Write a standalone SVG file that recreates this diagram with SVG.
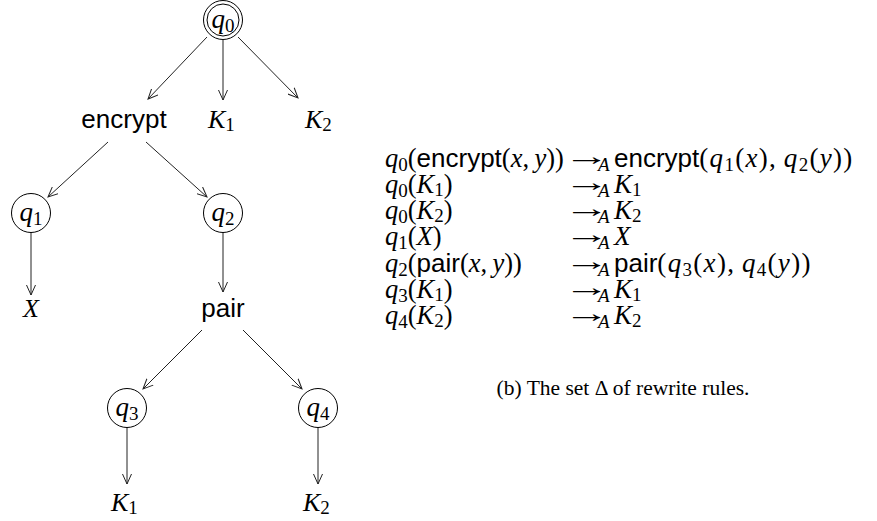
<svg xmlns="http://www.w3.org/2000/svg" width="877" height="521" viewBox="0 0 877 521">
<style>
.t{font-family:"Liberation Serif","Times New Roman",serif;font-size:26px;fill:#000}
.r{font-family:"Liberation Serif","Times New Roman",serif;font-size:27px;fill:#000}
.l{font-family:"Liberation Serif","Times New Roman",serif;font-size:26.5px;fill:#000}
.rr{letter-spacing:1.3px}
.mi{font-style:italic}
.sf{font-family:"Liberation Sans",Arial,sans-serif;font-size:26px;letter-spacing:0}
.sub{font-size:19px;font-style:normal}
.subi{font-size:19px;font-style:italic}
.ar{font-family:"Liberation Serif","Times New Roman",serif;font-size:26px;fill:#000}
.cap{font-family:"Liberation Serif","Times New Roman",serif;font-size:21.5px;fill:#000}
.st{fill:none;stroke:#000;stroke-width:1}
.e{fill:none;stroke:#222;stroke-width:1;marker-end:url(#ah)}
</style>
<defs>
<marker id="ah" markerUnits="userSpaceOnUse" markerWidth="12" markerHeight="10" refX="10" refY="5" orient="auto">
<path d="M0,0.5 L10,5 L0,9.5" fill="none" stroke="#222" stroke-width="1"/>
</marker>
</defs>

<g id="edges">
<line class="e" x1="207" y1="37" x2="148" y2="99"/>
<line class="e" x1="223" y1="40" x2="223" y2="100"/>
<line class="e" x1="238" y1="37" x2="298" y2="98"/>
<line class="e" x1="108" y1="142" x2="48" y2="197"/>
<line class="e" x1="146" y1="142" x2="207" y2="197"/>
<line class="e" x1="31" y1="232" x2="31" y2="295"/>
<line class="e" x1="223" y1="232" x2="223" y2="292"/>
<line class="e" x1="202" y1="330" x2="143" y2="389"/>
<line class="e" x1="243" y1="330" x2="302" y2="389"/>
<line class="e" x1="127" y1="427" x2="127" y2="484"/>
<line class="e" x1="318" y1="427" x2="318" y2="484"/>
</g>

<g id="q0">
<circle class="st" cx="223" cy="20" r="19.5"/>
<circle class="st" cx="223" cy="20" r="16"/>
<text class="r" x="223" y="28" text-anchor="middle"><tspan class="mi">q</tspan><tspan class="sub" dy="4">0</tspan></text>
</g>
<g id="encrypt"><text class="t sf" x="124" y="128" text-anchor="middle">encrypt</text></g>
<g id="K1a"><text class="t" x="208" y="128"><tspan class="mi">K</tspan><tspan class="sub" dy="3">1</tspan></text></g>
<g id="K2a"><text class="t" x="305" y="128"><tspan class="mi">K</tspan><tspan class="sub" dy="3">2</tspan></text></g>
<g id="q1">
<circle class="st" cx="31" cy="213" r="19.5"/>
<text class="r" x="31" y="221" text-anchor="middle"><tspan class="mi">q</tspan><tspan class="sub" dy="4">1</tspan></text>
</g>
<g id="q2">
<circle class="st" cx="223" cy="213" r="19.5"/>
<text class="r" x="223" y="221" text-anchor="middle"><tspan class="mi">q</tspan><tspan class="sub" dy="4">2</tspan></text>
</g>
<g id="X"><text class="t mi" x="31" y="317" text-anchor="middle">X</text></g>
<g id="pair"><text class="t sf" x="223" y="317" text-anchor="middle">pair</text></g>
<g id="q3">
<circle class="st" cx="127" cy="408" r="19.5"/>
<text class="r" x="127" y="416" text-anchor="middle"><tspan class="mi">q</tspan><tspan class="sub" dy="4">3</tspan></text>
</g>
<g id="q4">
<circle class="st" cx="318" cy="408" r="19.5"/>
<text class="r" x="318" y="416" text-anchor="middle"><tspan class="mi">q</tspan><tspan class="sub" dy="4">4</tspan></text>
</g>
<g id="K1b"><text class="t" x="111" y="511"><tspan class="mi">K</tspan><tspan class="sub" dy="3">1</tspan></text></g>
<g id="K2b"><text class="t" x="303" y="511"><tspan class="mi">K</tspan><tspan class="sub" dy="3">2</tspan></text></g>

<g id="rules">
<text class="l" x="385" y="167"><tspan class="mi">q</tspan><tspan class="sub" dy="4">0</tspan><tspan dy="-4">(</tspan><tspan class="sf">encrypt</tspan>(<tspan class="mi">x</tspan>,&#8201;<tspan class="mi">y</tspan>))</text>
<text class="r rr" x="614" y="167"><tspan class="sf">encrypt</tspan>(<tspan class="mi">q</tspan><tspan class="sub" dy="4">1</tspan><tspan dy="-4">(</tspan><tspan class="mi">x</tspan>),&#8201;<tspan class="mi">q</tspan><tspan class="sub" dy="4">2</tspan><tspan dy="-4">(</tspan><tspan class="mi">y</tspan>))</text>

<text class="l" x="385" y="193"><tspan class="mi">q</tspan><tspan class="sub" dy="4">0</tspan><tspan dy="-4">(</tspan><tspan class="mi">K</tspan><tspan class="sub" dy="3">1</tspan><tspan dy="-3">)</tspan></text>
<text class="r" x="614" y="193"><tspan class="mi">K</tspan><tspan class="sub" dy="3">1</tspan></text>

<text class="l" x="385" y="219"><tspan class="mi">q</tspan><tspan class="sub" dy="4">0</tspan><tspan dy="-4">(</tspan><tspan class="mi">K</tspan><tspan class="sub" dy="3">2</tspan><tspan dy="-3">)</tspan></text>
<text class="r" x="614" y="219"><tspan class="mi">K</tspan><tspan class="sub" dy="3">2</tspan></text>

<text class="l" x="385" y="245"><tspan class="mi">q</tspan><tspan class="sub" dy="4">1</tspan><tspan dy="-4">(</tspan><tspan class="mi">X</tspan>)</text>
<text class="r mi" x="614" y="245">X</text>

<text class="l" x="385" y="272"><tspan class="mi">q</tspan><tspan class="sub" dy="4">2</tspan><tspan dy="-4">(</tspan><tspan class="sf">pair</tspan>(<tspan class="mi">x</tspan>,&#8201;<tspan class="mi">y</tspan>))</text>
<text class="r rr" x="614" y="272"><tspan class="sf">pair</tspan>(<tspan class="mi">q</tspan><tspan class="sub" dy="4">3</tspan><tspan dy="-4">(</tspan><tspan class="mi">x</tspan>),&#8201;<tspan class="mi">q</tspan><tspan class="sub" dy="4">4</tspan><tspan dy="-4">(</tspan><tspan class="mi">y</tspan>))</text>

<text class="l" x="385" y="298"><tspan class="mi">q</tspan><tspan class="sub" dy="4">3</tspan><tspan dy="-4">(</tspan><tspan class="mi">K</tspan><tspan class="sub" dy="3">1</tspan><tspan dy="-3">)</tspan></text>
<text class="r" x="614" y="298"><tspan class="mi">K</tspan><tspan class="sub" dy="3">1</tspan></text>

<text class="l" x="385" y="324"><tspan class="mi">q</tspan><tspan class="sub" dy="4">4</tspan><tspan dy="-4">(</tspan><tspan class="mi">K</tspan><tspan class="sub" dy="3">2</tspan><tspan dy="-3">)</tspan></text>
<text class="r" x="614" y="324"><tspan class="mi">K</tspan><tspan class="sub" dy="3">2</tspan></text>
</g>

<g id="arrows">
<text class="ar" x="564" y="165" textLength="46" lengthAdjust="spacingAndGlyphs">→</text>
<text class="ar" x="564" y="191" textLength="46" lengthAdjust="spacingAndGlyphs">→</text>
<text class="ar" x="564" y="217" textLength="46" lengthAdjust="spacingAndGlyphs">→</text>
<text class="ar" x="564" y="243" textLength="46" lengthAdjust="spacingAndGlyphs">→</text>
<text class="ar" x="564" y="270" textLength="46" lengthAdjust="spacingAndGlyphs">→</text>
<text class="ar" x="564" y="296" textLength="46" lengthAdjust="spacingAndGlyphs">→</text>
<text class="ar" x="564" y="322" textLength="46" lengthAdjust="spacingAndGlyphs">→</text>
<text class="t subi" x="598" y="171">A</text>
<text class="t subi" x="598" y="197">A</text>
<text class="t subi" x="598" y="223">A</text>
<text class="t subi" x="598" y="249">A</text>
<text class="t subi" x="598" y="276">A</text>
<text class="t subi" x="598" y="302">A</text>
<text class="t subi" x="598" y="328">A</text>
</g>

<g id="caption"><text class="cap" x="623" y="395" text-anchor="middle">(b) The set Δ of rewrite rules.</text></g>
</svg>
